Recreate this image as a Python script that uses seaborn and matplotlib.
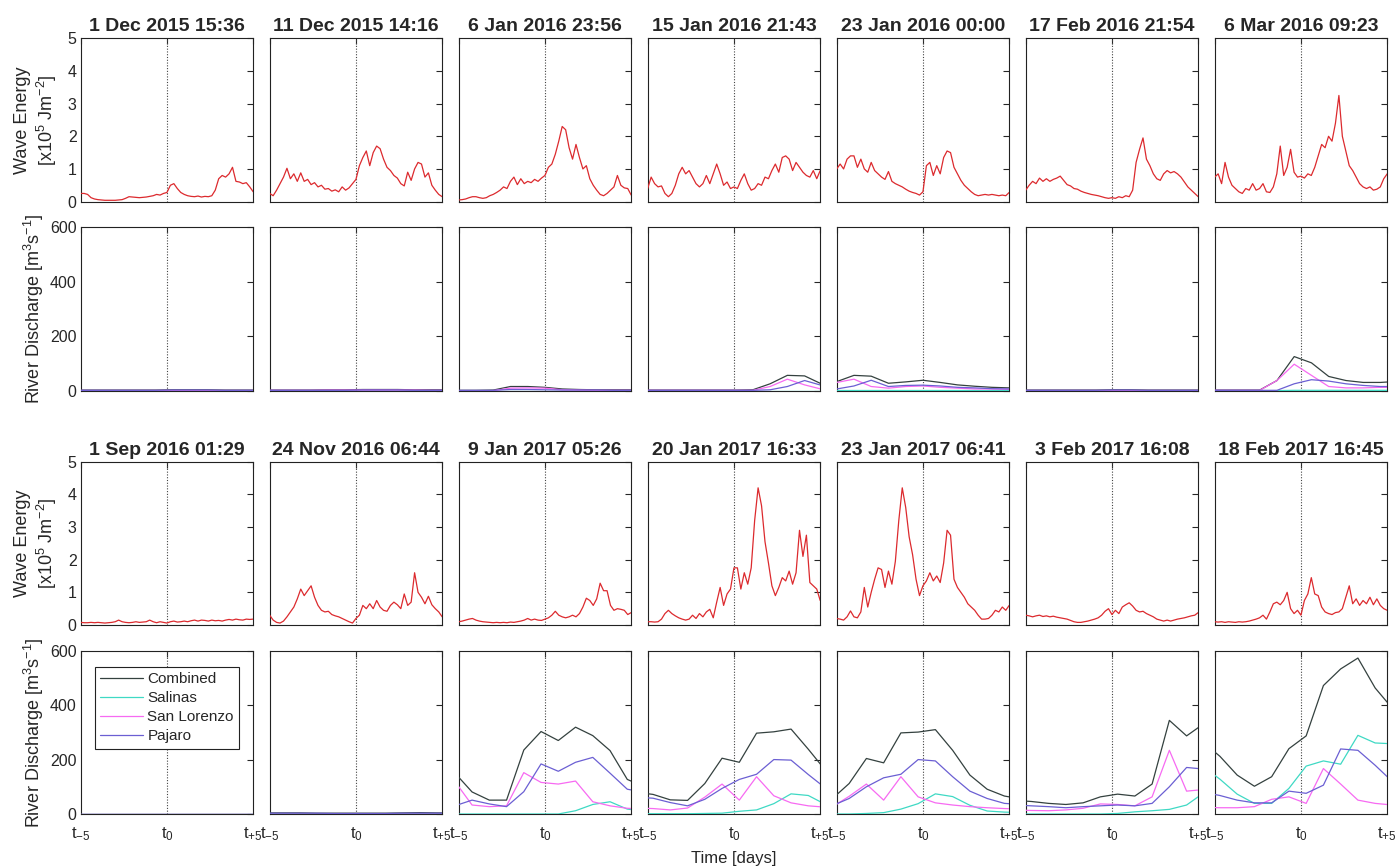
import numpy as np
import pandas as pd
import matplotlib
matplotlib.use("Agg")
import matplotlib.pyplot as plt
import seaborn as sns

# Event times (panel titles), two winters
EVENTS_1516 = ["1 Dec 2015 15:36", "11 Dec 2015 14:16", "6 Jan 2016 23:56",
               "15 Jan 2016 21:43", "23 Jan 2016 00:00", "17 Feb 2016 21:54",
               "6 Mar 2016 09:23"]
EVENTS_1617 = ["1 Sep 2016 01:29", "24 Nov 2016 06:44", "9 Jan 2017 05:26",
               "20 Jan 2017 16:33", "23 Jan 2017 06:41", "3 Feb 2017 16:08",
               "18 Feb 2017 16:45"]

# wave energy samples every 0.2 day from t-5 to t+5  [x10^5 J m^-2]
WAVE_TIME = np.linspace(-5, 5, 51)

wave_01dec15 = [0.25, 0.25, 0.22, 0.12, 0.08, 0.06, 0.05, 0.04, 0.04, 0.04, 0.04, 0.05, 0.06,
                0.10, 0.15, 0.14, 0.13, 0.12, 0.13, 0.14, 0.16, 0.18, 0.22, 0.20, 0.25, 0.28,
                0.50, 0.55, 0.40, 0.28, 0.22, 0.18, 0.16, 0.15, 0.17, 0.14, 0.16, 0.15, 0.18,
                0.35, 0.70, 0.80, 0.75, 0.85, 1.05, 0.62, 0.60, 0.55, 0.58, 0.45, 0.30]
wave_11dec15 = [0.25, 0.18, 0.35, 0.55, 0.75, 1.02, 0.70, 0.85, 0.62, 0.88, 0.62, 0.68, 0.52,
                0.58, 0.45, 0.50, 0.38, 0.40, 0.32, 0.36, 0.30, 0.45, 0.35, 0.42, 0.55, 0.68,
                1.10, 1.35, 1.55, 1.10, 1.50, 1.70, 1.62, 1.30, 1.05, 0.95, 0.80, 0.72, 0.55,
                0.48, 0.90, 0.65, 1.00, 1.20, 1.15, 0.75, 0.88, 0.50, 0.35, 0.22, 0.15]
wave_06jan16 = [0.05, 0.06, 0.08, 0.12, 0.15, 0.15, 0.12, 0.10, 0.12, 0.18, 0.22, 0.28, 0.35,
                0.45, 0.40, 0.62, 0.75, 0.52, 0.70, 0.55, 0.62, 0.58, 0.68, 0.62, 0.72, 0.80,
                1.05, 1.15, 1.45, 1.85, 2.30, 2.20, 1.65, 1.30, 1.75, 1.35, 1.00, 1.10, 0.70,
                0.50, 0.35, 0.22, 0.18, 0.25, 0.35, 0.45, 0.80, 0.50, 0.42, 0.40, 0.20]
wave_15jan16 = [0.40, 0.75, 0.55, 0.45, 0.48, 0.25, 0.15, 0.25, 0.50, 0.85, 1.05, 0.85, 0.95,
                0.75, 0.55, 0.45, 0.55, 0.80, 0.55, 0.85, 1.15, 0.85, 0.50, 0.60, 0.40, 0.45,
                0.40, 0.65, 0.85, 0.55, 0.35, 0.40, 0.55, 0.50, 0.75, 0.70, 0.95, 1.15, 0.90,
                1.35, 1.40, 1.30, 0.95, 1.20, 1.05, 0.90, 0.80, 0.75, 0.95, 0.70, 0.95]
wave_23jan16 = [1.00, 1.15, 1.00, 1.30, 1.40, 1.40, 1.05, 1.30, 1.00, 0.90, 1.20, 0.95, 0.85,
                0.75, 0.68, 0.92, 0.62, 0.55, 0.50, 0.45, 0.38, 0.32, 0.28, 0.25, 0.20, 0.30,
                1.10, 1.20, 0.80, 1.10, 0.85, 1.35, 1.55, 1.50, 1.05, 0.85, 0.65, 0.50, 0.40,
                0.30, 0.22, 0.18, 0.20, 0.22, 0.20, 0.22, 0.20, 0.18, 0.20, 0.18, 0.28]
wave_17feb16 = [0.35, 0.50, 0.62, 0.55, 0.72, 0.62, 0.70, 0.62, 0.68, 0.72, 0.78, 0.65, 0.52,
                0.48, 0.40, 0.38, 0.32, 0.28, 0.25, 0.22, 0.20, 0.18, 0.15, 0.12, 0.10, 0.12,
                0.10, 0.15, 0.12, 0.18, 0.15, 0.35, 1.20, 1.60, 1.95, 1.30, 1.10, 0.85, 0.70,
                0.65, 0.85, 0.95, 0.88, 0.92, 0.85, 0.75, 0.60, 0.45, 0.35, 0.25, 0.15]
wave_06mar16 = [0.75, 0.85, 0.55, 1.20, 0.75, 0.50, 0.40, 0.30, 0.25, 0.40, 0.35, 0.55, 0.35,
                0.40, 0.55, 0.30, 0.28, 0.45, 0.85, 1.70, 0.80, 1.05, 1.60, 0.90, 0.75, 0.78,
                0.72, 0.85, 0.80, 1.05, 1.40, 1.75, 1.65, 2.00, 1.85, 2.40, 3.25, 2.00, 1.55,
                1.10, 0.95, 0.75, 0.55, 0.45, 0.40, 0.45, 0.35, 0.38, 0.45, 0.70, 0.85]
wave_01sep16 = [0.08, 0.07, 0.07, 0.08, 0.07, 0.08, 0.07, 0.06, 0.07, 0.08, 0.10, 0.15, 0.10,
                0.08, 0.07, 0.08, 0.10, 0.08, 0.09, 0.10, 0.15, 0.10, 0.07, 0.10, 0.08, 0.06,
                0.10, 0.12, 0.09, 0.10, 0.12, 0.10, 0.13, 0.15, 0.12, 0.15, 0.14, 0.12, 0.15,
                0.13, 0.14, 0.12, 0.15, 0.17, 0.15, 0.18, 0.16, 0.15, 0.18, 0.17, 0.18]
wave_24nov16 = [0.30, 0.15, 0.08, 0.06, 0.12, 0.25, 0.40, 0.55, 0.80, 1.10, 0.90, 1.05, 1.20,
                0.85, 0.60, 0.45, 0.40, 0.42, 0.32, 0.28, 0.25, 0.20, 0.15, 0.10, 0.06, 0.20,
                0.30, 0.60, 0.50, 0.65, 0.50, 0.75, 0.55, 0.45, 0.42, 0.60, 0.70, 0.62, 0.50,
                0.95, 0.60, 0.70, 1.60, 1.00, 0.85, 0.65, 0.88, 0.62, 0.50, 0.40, 0.25]
wave_09jan17 = [0.10, 0.12, 0.15, 0.18, 0.20, 0.15, 0.12, 0.10, 0.09, 0.08, 0.07, 0.08, 0.07,
                0.08, 0.07, 0.09, 0.08, 0.10, 0.12, 0.15, 0.20, 0.15, 0.18, 0.15, 0.14, 0.18,
                0.22, 0.30, 0.42, 0.30, 0.25, 0.22, 0.25, 0.30, 0.25, 0.35, 0.55, 0.82, 0.75,
                0.60, 0.80, 1.28, 1.05, 1.05, 0.60, 0.45, 0.50, 0.48, 0.45, 0.32, 0.38]
wave_20jan17 = [0.10, 0.10, 0.09, 0.10, 0.18, 0.35, 0.45, 0.35, 0.28, 0.22, 0.18, 0.15, 0.18,
                0.30, 0.20, 0.35, 0.25, 0.40, 0.48, 0.22, 0.70, 1.15, 0.60, 0.95, 1.10, 1.75,
                1.75, 1.10, 1.60, 1.25, 1.75, 3.20, 4.20, 3.65, 2.55, 1.90, 1.20, 0.90, 1.15,
                1.45, 1.35, 1.65, 1.25, 1.60, 2.90, 2.10, 2.75, 1.30, 1.20, 1.10, 0.75]
wave_23jan17 = [0.20, 0.18, 0.15, 0.25, 0.43, 0.25, 0.22, 0.40, 1.15, 0.55, 1.00, 1.40, 1.75,
                1.70, 1.15, 1.65, 1.25, 1.95, 3.20, 4.20, 3.60, 2.70, 2.15, 1.40, 0.90, 1.20,
                1.35, 1.60, 1.35, 1.50, 1.30, 1.90, 2.90, 2.75, 1.40, 1.15, 1.00, 0.85, 0.65,
                0.55, 0.45, 0.30, 0.18, 0.18, 0.20, 0.30, 0.45, 0.40, 0.55, 0.45, 0.60]
wave_03feb17 = [0.30, 0.28, 0.25, 0.28, 0.30, 0.26, 0.28, 0.25, 0.27, 0.24, 0.22, 0.20, 0.18,
                0.14, 0.10, 0.08, 0.08, 0.10, 0.12, 0.15, 0.18, 0.22, 0.30, 0.42, 0.50, 0.32,
                0.45, 0.35, 0.55, 0.62, 0.68, 0.58, 0.45, 0.40, 0.42, 0.35, 0.30, 0.25, 0.18,
                0.15, 0.12, 0.15, 0.12, 0.15, 0.18, 0.20, 0.22, 0.25, 0.28, 0.30, 0.38]
wave_18feb17 = [0.10, 0.09, 0.10, 0.08, 0.10, 0.09, 0.08, 0.10, 0.09, 0.10, 0.12, 0.15, 0.18,
                0.22, 0.30, 0.18, 0.40, 0.65, 0.70, 0.62, 0.75, 1.00, 0.50, 0.35, 0.45, 0.30,
                0.75, 0.95, 1.45, 0.95, 0.90, 0.55, 0.40, 0.35, 0.32, 0.38, 0.40, 0.50, 0.85,
                1.20, 0.65, 0.80, 0.60, 0.75, 0.65, 0.85, 0.62, 0.80, 0.60, 0.50, 0.45]

# daily river discharge [m^3 s^-1], 12 daily values stamped at midnight around each event
RIVERS = ["Combined", "Salinas", "San Lorenzo", "Pajaro"]
RIVER_COLORS = ["#34413f", "#3fd9c4", "#f76af2", "#6b5fd3"]

comb_01dec15 = [2, 2, 2, 2, 2, 2, 3, 3, 3, 2, 2, 2]
sal_01dec15 = [0, 0, 0, 0, 0, 0, 0, 0, 0, 0, 0, 0]
slz_01dec15 = [1, 1, 1, 1, 1, 1, 1, 1, 1, 1, 1, 1]
paj_01dec15 = [1, 1, 1, 1, 1, 1, 2, 2, 2, 1, 1, 1]

comb_11dec15 = [2, 2, 2, 2, 3, 3, 4, 4, 4, 3, 3, 3]
sal_11dec15 = [0, 0, 0, 0, 0, 0, 0, 0, 0, 0, 0, 0]
slz_11dec15 = [1, 1, 1, 1, 2, 2, 2, 2, 2, 2, 1, 1]
paj_11dec15 = [1, 1, 1, 1, 1, 1, 2, 2, 2, 1, 1, 1]

comb_06jan16 = [1, 1, 1, 2, 15, 15, 12, 6, 4, 3, 3, 3]
sal_06jan16 = [0, 0, 0, 0, 0, 0, 0, 0, 0, 0, 0, 0]
slz_06jan16 = [0, 0, 0, 0, 9, 10, 9, 3, 2, 1, 1, 1]
paj_06jan16 = [1, 1, 1, 1, 4, 4, 3, 2, 2, 2, 1, 1]

comb_15jan16 = [2, 2, 2, 2, 2, 2, 2, 3, 25, 56, 54, 24]
sal_15jan16 = [0, 0, 0, 0, 0, 0, 0, 0, 0, 0, 0, 0]
slz_15jan16 = [1, 1, 1, 1, 1, 1, 1, 1, 15, 42, 21, 5]
paj_15jan16 = [1, 1, 1, 1, 1, 1, 1, 1, 3, 15, 37, 19]

comb_23jan16 = [33, 56, 53, 27, 32, 38, 30, 21, 16, 12, 10, 9]
sal_23jan16 = [1, 1, 1, 1, 1, 1, 1, 1, 1, 1, 1, 1]
slz_23jan16 = [30, 42, 15, 9, 15, 17, 12, 9, 6, 6, 5, 5]
paj_23jan16 = [6, 17, 38, 15, 19, 20, 17, 12, 10, 7, 6, 5]

comb_17feb16 = [2, 2, 2, 2, 2, 2, 3, 3, 2, 2, 2, 2]
sal_17feb16 = [0, 0, 0, 0, 0, 0, 0, 0, 0, 0, 0, 0]
slz_17feb16 = [1, 1, 1, 1, 1, 1, 1, 1, 1, 1, 1, 1]
paj_17feb16 = [1, 1, 1, 1, 1, 1, 2, 2, 1, 1, 1, 1]

comb_06mar16 = [2, 2, 2, 2, 37, 125, 102, 52, 37, 30, 30, 34]
sal_06mar16 = [0, 0, 0, 0, 0, 1, 1, 1, 1, 1, 1, 1]
slz_06mar16 = [1, 1, 1, 1, 37, 97, 56, 15, 10, 10, 12, 12]
paj_06mar16 = [1, 1, 1, 1, 1, 25, 40, 35, 25, 19, 15, 15]

comb_01sep16 = [1, 1, 1, 1, 1, 1, 1, 1, 1, 1, 1, 1]
sal_01sep16 = [0, 0, 0, 0, 0, 0, 0, 0, 0, 0, 0, 0]
slz_01sep16 = [0, 0, 0, 0, 0, 0, 0, 0, 0, 0, 0, 0]
paj_01sep16 = [1, 1, 1, 1, 1, 1, 1, 1, 1, 1, 1, 1]

comb_24nov16 = [4, 4, 4, 3, 3, 3, 3, 3, 4, 5, 4, 4]
sal_24nov16 = [0, 0, 0, 0, 0, 0, 0, 0, 0, 0, 0, 0]
slz_24nov16 = [1, 1, 1, 1, 1, 1, 1, 1, 1, 1, 1, 1]
paj_24nov16 = [3, 3, 3, 3, 2, 2, 2, 2, 3, 3, 3, 3]

comb_09jan17 = [151, 81, 51, 51, 235, 303, 270, 319, 288, 233, 127, 100]
sal_09jan17 = [0, 0, 0, 0, 0, 0, 0, 12, 35, 45, 18, 10]
slz_09jan17 = [120, 33, 27, 30, 152, 116, 110, 121, 45, 30, 21, 18]
paj_09jan17 = [30, 51, 37, 27, 82, 184, 157, 190, 208, 150, 91, 80]

comb_20jan17 = [80, 72, 52, 50, 112, 205, 190, 297, 302, 312, 238, 160]
sal_20jan17 = [1, 1, 1, 1, 2, 3, 10, 15, 38, 74, 68, 35]
slz_20jan17 = [22, 20, 15, 22, 62, 110, 51, 137, 67, 41, 30, 25]
paj_20jan17 = [62, 58, 42, 30, 54, 94, 127, 146, 200, 198, 145, 95]

comb_23jan17 = [55, 112, 204, 188, 298, 301, 310, 234, 143, 91, 66, 55]
sal_23jan17 = [0, 0, 2, 5, 18, 38, 74, 64, 32, 11, 7, 5]
slz_23jan17 = [25, 65, 110, 51, 137, 63, 41, 33, 27, 23, 20, 18]
paj_23jan17 = [30, 57, 100, 133, 146, 200, 195, 137, 84, 57, 39, 35]

comb_03feb17 = [50, 46, 39, 35, 41, 63, 73, 66, 110, 344, 287, 332]
sal_03feb17 = [0, 0, 0, 0, 0, 0, 2, 8, 12, 17, 33, 78]
slz_03feb17 = [15, 13, 12, 15, 21, 37, 35, 30, 63, 234, 84, 90]
paj_03feb17 = [33, 30, 27, 23, 27, 30, 33, 30, 39, 100, 171, 165]

comb_18feb17 = [265, 212, 143, 102, 137, 240, 287, 472, 533, 573, 463, 388]
sal_18feb17 = [175, 128, 73, 39, 39, 94, 176, 195, 183, 289, 261, 258]
slz_18feb17 = [25, 23, 23, 27, 54, 63, 39, 167, 110, 51, 39, 33]
paj_18feb17 = [80, 68, 51, 41, 41, 84, 76, 106, 239, 234, 179, 119]

WAVES = [wave_01dec15, wave_11dec15, wave_06jan16, wave_15jan16, wave_23jan16,
         wave_17feb16, wave_06mar16, wave_01sep16, wave_24nov16, wave_09jan17,
         wave_20jan17, wave_23jan17, wave_03feb17, wave_18feb17]
DISCHARGE = [
    (comb_01dec15, sal_01dec15, slz_01dec15, paj_01dec15),
    (comb_11dec15, sal_11dec15, slz_11dec15, paj_11dec15),
    (comb_06jan16, sal_06jan16, slz_06jan16, paj_06jan16),
    (comb_15jan16, sal_15jan16, slz_15jan16, paj_15jan16),
    (comb_23jan16, sal_23jan16, slz_23jan16, paj_23jan16),
    (comb_17feb16, sal_17feb16, slz_17feb16, paj_17feb16),
    (comb_06mar16, sal_06mar16, slz_06mar16, paj_06mar16),
    (comb_01sep16, sal_01sep16, slz_01sep16, paj_01sep16),
    (comb_24nov16, sal_24nov16, slz_24nov16, paj_24nov16),
    (comb_09jan17, sal_09jan17, slz_09jan17, paj_09jan17),
    (comb_20jan17, sal_20jan17, slz_20jan17, paj_20jan17),
    (comb_23jan17, sal_23jan17, slz_23jan17, paj_23jan17),
    (comb_03feb17, sal_03feb17, slz_03feb17, paj_03feb17),
    (comb_18feb17, sal_18feb17, slz_18feb17, paj_18feb17),
]
EVENTS = EVENTS_1516 + EVENTS_1617
XTICK_LABELS = [r"$\mathregular{t_{-5}}$", r"$\mathregular{t_0}$", r"$\mathregular{t_{+5}}$"]
WAVE_COLOR = "#dc2a2e"


def day_fraction(title):
    """Fraction of the day at the event time, e.g. '09:23' -> 0.39."""
    hh, mm = title.split()[-1].split(":")
    return (int(hh) + int(mm) / 60.0) / 24.0


def style_axis(ax, ymax, yticks, show_y, show_x):
    ax.set_xlim(-5, 5)
    ax.set_ylim(0, ymax)
    ax.set_xticks([-5, 0, 5])
    ax.set_yticks(yticks)
    ax.tick_params(direction="in", length=4, width=0.8, top=True, right=True,
                   labelsize=11.5, pad=3, labelleft=show_y, labelbottom=show_x)
    ax.tick_params(axis="x", labelsize=12, pad=8)
    if show_x:
        ax.set_xticklabels(XTICK_LABELS)
    for s in ax.spines.values():
        s.set_linewidth(0.8)
        s.set_color("#222222")
    ax.axvline(0, color="#444444", lw=0.8, ls=(0, (1, 1.5)), zorder=1)
    ax.set_xlabel("")
    ax.set_ylabel("")


sns.set_theme(style="white")
plt.rcParams["font.family"] = ["Liberation Sans", "DejaVu Sans"]
plt.rcParams["mathtext.default"] = "regular"

W, H = 1395, 868
fig = plt.figure(figsize=(W / 100, H / 100), dpi=100)

col_left = [80.7 + 189.0 * i for i in range(7)]
ax_w, ax_h = 172.5, 163.3
row_top = [38.3, 227.3, 461.7, 650.7]

for idx, title in enumerate(EVENTS):
    block, col = divmod(idx, 7)
    frac = day_fraction(title)

    # wave energy panel
    top = row_top[2 * block]
    ax = fig.add_axes([col_left[col] / W, 1 - (top + ax_h) / H, ax_w / W, ax_h / H])
    wdf = pd.DataFrame({"day": WAVE_TIME, "energy": WAVES[idx]})
    sns.lineplot(data=wdf, x="day", y="energy", ax=ax, color=WAVE_COLOR, lw=0.9, zorder=3)
    style_axis(ax, 5, [0, 1, 2, 3, 4, 5], col == 0, False)
    ax.set_title(title, fontsize=14, fontweight="bold", pad=5)
    if col == 0:
        ax.set_ylabel("Wave Energy\n[x10$^5$ Jm$^{-2}$]", fontsize=13, labelpad=6,
                      multialignment="center")

    # river discharge panel
    top = row_top[2 * block + 1]
    ax = fig.add_axes([col_left[col] / W, 1 - (top + ax_h) / H, ax_w / W, ax_h / H])
    days = np.arange(12) - 5 - frac
    rdf = pd.DataFrame({"day": np.tile(days, 4),
                        "flow": np.concatenate(DISCHARGE[idx]),
                        "river": np.repeat(RIVERS, 12)})
    for name, color in zip(RIVERS, RIVER_COLORS):
        sub = rdf[rdf["river"] == name]
        sns.lineplot(data=sub, x="day", y="flow", ax=ax, color=color, lw=0.9,
                     label=name, legend=False, zorder=3)
    style_axis(ax, 600, [0, 200, 400, 600], col == 0, block == 1)
    if col == 0:
        ax.set_ylabel("River Discharge [m$^3$s$^{-1}$]", fontsize=13, labelpad=3)
    if block == 1 and col == 0:
        leg = ax.legend(loc="upper left", bbox_to_anchor=(14 / ax_w, 1 - 16 / ax_h),
                        borderaxespad=0, fontsize=11, frameon=True, fancybox=False,
                        handlelength=2.8, labelspacing=0.33, borderpad=0.35,
                        handletextpad=0.3)
        leg.get_frame().set_edgecolor("#222222")
        leg.get_frame().set_linewidth(0.8)
        leg.get_frame().set_alpha(1)

fig.text(734 / W, 1 - 858 / H, "Time [days]", ha="center", va="center", fontsize=12)

fig.savefig("out.png", dpi=100, facecolor="white")
